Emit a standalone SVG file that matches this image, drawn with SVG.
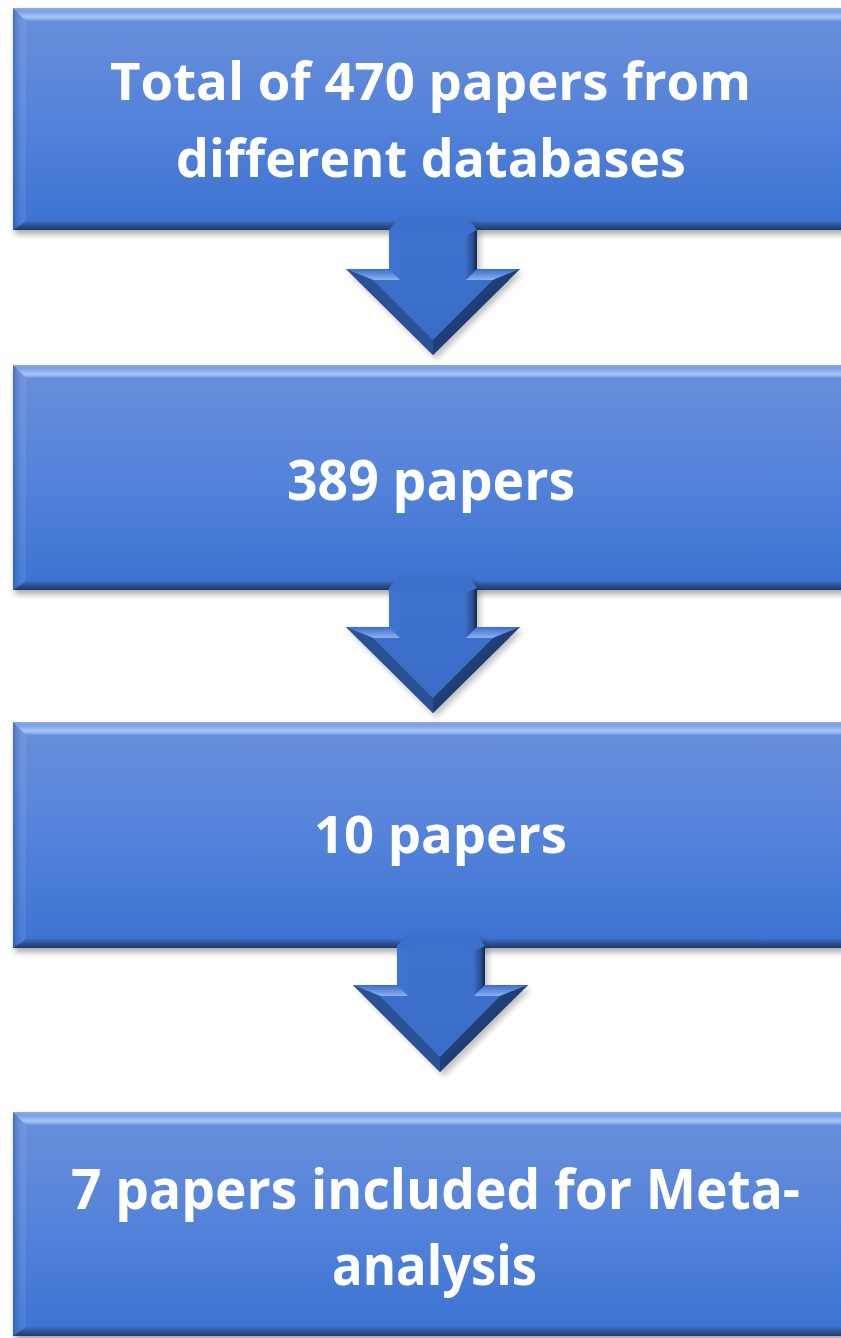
<svg xmlns="http://www.w3.org/2000/svg" width="841" height="1338" viewBox="0 0 841 1338">
<style>
.txt{font-family:"Open Sans","Liberation Sans",sans-serif;font-weight:700;fill:#ffffff;text-anchor:middle}
.body{fill:url(#boxGrad)}
.tb{fill:url(#topBevel)}
.lb{fill:url(#leftBevel)}
.bb{fill:url(#botBevel)}
.shadow{fill:#000;opacity:0.35;filter:url(#blur)}
.ashadow{fill:#000;opacity:0.25;filter:url(#blur)}
.ain{fill:url(#arrowGrad)}
.atop{fill:#3c70cc}
.als{fill:#3e73cf}
.ars{fill:url(#shaftDark)}
.ash{fill:url(#shoulder)}
.ald{fill:url(#diagL)}
.ard{fill:url(#diagR)}
</style>
<defs>
<filter id="blur" x="-10%" y="-10%" width="120%" height="130%"><feGaussianBlur stdDeviation="3"/></filter>
<linearGradient id="boxGrad" x1="0" y1="0" x2="0" y2="1">
<stop offset="0" stop-color="#6a8fda"/>
<stop offset="0.5" stop-color="#5483da"/>
<stop offset="1" stop-color="#3b72d2"/>
</linearGradient>
<linearGradient id="topBevel" x1="0" y1="0" x2="0" y2="1">
<stop offset="0" stop-color="#8ea9dc"/>
<stop offset="0.25" stop-color="#7a9fe6"/>
<stop offset="0.7" stop-color="#a9c5f7"/>
<stop offset="1" stop-color="#7097e0"/>
</linearGradient>
<linearGradient id="leftBevel" x1="0" y1="0" x2="1" y2="0">
<stop offset="0" stop-color="#2c4f8f" stop-opacity="0.55"/>
<stop offset="0.3" stop-color="#3d66b0" stop-opacity="0.2"/>
<stop offset="1" stop-color="#ffffff" stop-opacity="0.08"/>
</linearGradient>
<linearGradient id="botBevel" x1="0" y1="0" x2="0" y2="1">
<stop offset="0" stop-color="#3f6cc0"/>
<stop offset="0.5" stop-color="#2c5296"/>
<stop offset="1" stop-color="#1e3a6e"/>
</linearGradient>
<linearGradient id="arrowGrad" x1="0" y1="0" x2="0" y2="1">
<stop offset="0" stop-color="#3d72cf"/>
<stop offset="1" stop-color="#3a6cc6"/>
</linearGradient>
<linearGradient id="shaftDark" x1="0" y1="0" x2="1" y2="0">
<stop offset="0" stop-color="#3a6cc6"/>
<stop offset="0.6" stop-color="#2a4f94"/>
<stop offset="1" stop-color="#14264a"/>
</linearGradient>
<linearGradient id="shoulder" x1="0" y1="0" x2="0" y2="1">
<stop offset="0" stop-color="#3b6dc8"/>
<stop offset="1" stop-color="#8bb0f2"/>
</linearGradient>
<linearGradient id="diagL" x1="0" y1="0" x2="1" y2="-1">
<stop offset="0" stop-color="#2a4f93"/>
<stop offset="1" stop-color="#3b6dc8"/>
</linearGradient>
<linearGradient id="diagR" x1="1" y1="0" x2="0" y2="-1">
<stop offset="0" stop-color="#1f3c73"/>
<stop offset="1" stop-color="#3868c0"/>
</linearGradient>
</defs>

<g id="box1">
<rect class="shadow" x="15" y="12" width="860" height="222"/>
<rect class="body" x="13" y="8" width="860" height="222"/>
<polygon class="tb" points="13,8 873,8 860,21 26,21"/>
<polygon class="lb" points="13,8 26,21 26,221 13,230"/>
<polygon class="bb" points="13,230 26,221 860,221 873,230"/>
<text class="txt" x="430.5" y="100" font-size="52" textLength="641" lengthAdjust="spacingAndGlyphs">Total of 470 papers from</text>
<text class="txt" x="431" y="177" font-size="52" textLength="510" lengthAdjust="spacingAndGlyphs">different databases</text>
</g>

<g id="box2">
<rect class="shadow" x="15" y="369" width="860" height="225"/>
<rect class="body" x="13" y="365" width="860" height="225"/>
<polygon class="tb" points="13,365 873,365 860,378 26,378"/>
<polygon class="lb" points="13,365 26,378 26,581 13,590"/>
<polygon class="bb" points="13,590 26,581 860,581 873,590"/>
<text class="txt" x="431" y="500" font-size="56" textLength="288" lengthAdjust="spacingAndGlyphs">389 papers</text>
</g>

<g id="box3">
<rect class="shadow" x="15" y="726" width="860" height="226"/>
<rect class="body" x="13" y="722" width="860" height="226"/>
<polygon class="tb" points="13,722 873,722 860,735 26,735"/>
<polygon class="lb" points="13,722 26,735 26,939 13,948"/>
<polygon class="bb" points="13,948 26,939 860,939 873,948"/>
<text class="txt" x="440.5" y="853" font-size="52" textLength="253" lengthAdjust="spacingAndGlyphs">10 papers</text>
</g>

<g id="box4">
<rect class="shadow" x="15" y="1116" width="860" height="224"/>
<rect class="body" x="13" y="1112" width="860" height="224"/>
<polygon class="tb" points="13,1112 873,1112 860,1125 26,1125"/>
<polygon class="lb" points="13,1112 26,1125 26,1327 13,1336"/>
<polygon class="bb" points="13,1336 26,1327 860,1327 873,1336"/>
<text class="txt" x="435.5" y="1209" font-size="56" textLength="729" lengthAdjust="spacingAndGlyphs">7 papers included for Meta-</text>
<text class="txt" x="434.5" y="1285" font-size="56" textLength="205" lengthAdjust="spacingAndGlyphs">analysis</text>
</g>

<g id="connectors">
<g id="arrow1">
<polygon class="ashadow" points="392,234 403,221 470,221 480,234 480,273 523,273 436,359 349,273 392,273"/>
<polygon class="ain" points="389,230 400,217 467,217 477,230 477,269 520,269 433,355 346,269 389,269"/>
<polygon class="atop" points="389,230 400,217 467,217 477,230 466,235 461,228 405,228 400,235"/>
<polygon class="als" points="389,230 400,235 400,280 389,269"/>
<polygon class="ars" points="477,230 477,269 466,280 466,235"/>
<polygon class="ash" points="346,269 389,269 400,280 373,280"/>
<polygon class="ash" points="477,269 520,269 493,280 466,280"/>
<polygon class="ard" points="520,269 433,355 433,340 493,280"/>
<polygon class="ald" points="346,269 373,280 433,340 433,355"/>
</g>
<g id="arrow2">
<polygon class="ashadow" points="392,592 403,579 470,579 480,592 480,631 523,631 436,717 349,631 392,631"/>
<polygon class="ain" points="389,588 400,575 467,575 477,588 477,627 520,627 433,713 346,627 389,627"/>
<polygon class="atop" points="389,588 400,575 467,575 477,588 466,593 461,586 405,586 400,593"/>
<polygon class="als" points="389,588 400,593 400,638 389,627"/>
<polygon class="ars" points="477,588 477,627 466,638 466,593"/>
<polygon class="ash" points="346,627 389,627 400,638 373,638"/>
<polygon class="ash" points="477,627 520,627 493,638 466,638"/>
<polygon class="ard" points="520,627 433,713 433,698 493,638"/>
<polygon class="ald" points="346,627 373,638 433,698 433,713"/>
</g>
<g id="arrow3">
<polygon class="ashadow" points="400,950 411,937 478,937 488,950 488,989 531,989 444,1076 357,989 400,989"/>
<polygon class="ain" points="397,946 408,933 475,933 485,946 485,985 528,985 440,1072 353,985 397,985"/>
<polygon class="atop" points="397,946 408,933 475,933 485,946 474,951 469,944 413,944 408,951"/>
<polygon class="als" points="397,946 408,951 408,996 397,985"/>
<polygon class="ars" points="485,946 485,985 474,996 474,951"/>
<polygon class="ash" points="353,985 397,985 408,996 380,996"/>
<polygon class="ash" points="485,985 528,985 500,996 474,996"/>
<polygon class="ard" points="528,985 440,1072 440,1057 500,996"/>
<polygon class="ald" points="353,985 380,996 440,1057 440,1072"/>
</g>
</g>
</svg>
